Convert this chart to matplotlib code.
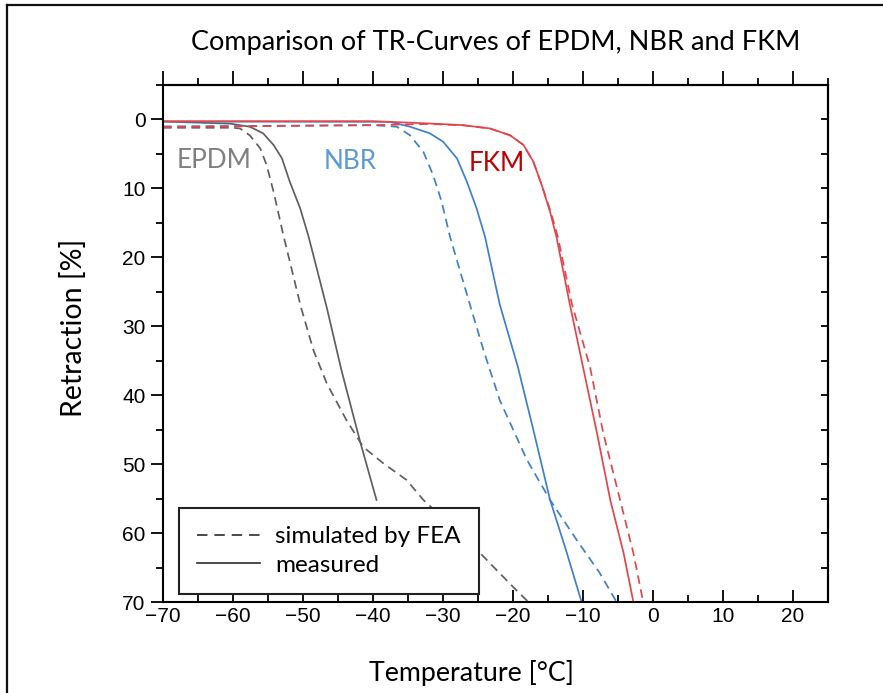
import matplotlib
matplotlib.use("Agg")
import matplotlib.pyplot as plt
from matplotlib.lines import Line2D
from matplotlib.ticker import MultipleLocator

# EPDM
epdm_meas_t = [-70, -60.4, -57.6, -55.7, -54.2, -53.0, -51.9, -50.4, -49.2, -46.6, -44.5, -41.9, -39.5]
epdm_meas_r = [0.3, 0.6, 1.05, 2.0, 3.7, 5.65, 9.0, 12.9, 17.0, 27.3, 36.4, 46.5, 55.2]
epdm_sim_t = [-70, -60, -59, -57.6, -56.1, -55.2, -54.2, -52.8, -50.3, -48.5, -46.6, -43.8, -41.4,
              -38.5, -35.2, -32.8, -28.5, -24.7, -20, -17.8]
epdm_sim_r = [1.2, 1.2, 1.3, 2.3, 4.2, 6.6, 10.5, 16.8, 27.2, 33.5, 38.3, 43.6, 47.5,
              49.9, 52.3, 55.2, 59.2, 62.9, 67.8, 70]

# NBR
nbr_meas_t = [-70, -37.6, -34.7, -31.9, -30.0, -28.0, -26.6, -25.2, -24.0, -21.9, -19.3, -17.1,
              -14.7, -12.3, -10.2]
nbr_meas_r = [0.3, 0.34, 1.05, 2.0, 3.2, 5.65, 9.0, 12.9, 17.0, 26.8, 35.9, 45.0,
              55.2, 62.9, 70]
nbr_sim_t = [-70, -40, -36.6, -34.7, -32.8, -31.4, -30.2, -29.0, -26.2, -24.2, -21.9, -18, -14.7,
             -10.9, -7.6, -5.2]
nbr_sim_r = [1.0, 0.82, 1.05, 2.3, 4.7, 8.1, 11.9, 17.0, 26.7, 33.5, 40.7, 49.4, 55.2,
             61, 65.8, 70]

# FKM
fkm_meas_t = [-70, -40, -31.9, -27.1, -23.3, -20.4, -18.5, -17.1, -15.9, -14.7, -13.8, -11.9,
              -10, -8.0, -6.1, -4.2, -2.8]
fkm_meas_r = [0.25, 0.24, 0.58, 0.82, 1.3, 2.3, 3.7, 6.1, 9.5, 13.4, 17.0, 26.7,
              35.9, 45.5, 55.2, 62.9, 70]
fkm_sim_t = [-70, -40, -31.9, -27.1, -23.3, -20.4, -18.5, -17.1, -15.9, -14.6, -13.6, -11.6,
             -9.0, -7.1, -4.7, -2.8, -1.4]
fkm_sim_r = [1.1, 0.82, 0.65, 0.85, 1.3, 2.3, 3.7, 6.1, 9.5, 13.4, 17.0, 26.7,
             35.9, 45.5, 55.2, 62.9, 70]

gray = '#5f5f5f'
blue = '#3f7fcc'
red = '#e2464c'
lw = 1.25
dash = (5, 3.2)

fig = plt.figure(figsize=(8.83, 6.93), dpi=100)
ax = fig.add_axes([0.1846, 0.1313, 0.7531, 0.746])

ax.plot(epdm_sim_t, epdm_sim_r, '--', color=gray, lw=lw, dashes=dash)
ax.plot(epdm_meas_t, epdm_meas_r, '-', color=gray, lw=lw)
ax.plot(nbr_sim_t, nbr_sim_r, '--', color=blue, lw=lw, dashes=dash)
ax.plot(nbr_meas_t, nbr_meas_r, '-', color=blue, lw=lw)
ax.plot(fkm_sim_t, fkm_sim_r, '--', color=red, lw=lw, dashes=dash)
ax.plot(fkm_meas_t, fkm_meas_r, '-', color=red, lw=lw)

ax.set_xlim(-70, 25)
ax.set_ylim(70, -5)

ax.xaxis.set_major_locator(MultipleLocator(10))
ax.xaxis.set_minor_locator(MultipleLocator(5))
ax.yaxis.set_major_locator(MultipleLocator(10))
ax.yaxis.set_minor_locator(MultipleLocator(5))
ax.set_yticks(range(0, 71, 10))
ax.tick_params(axis='x', which='both', direction='in', top=False)
ax.tick_params(axis='y', which='both', direction='out', right=False)
ax.tick_params(which='major', length=9, width=1.3, labelsize=15)
ax.tick_params(which='minor', length=5, width=1.3)
for lab in ax.get_xticklabels() + ax.get_yticklabels():
    lab.set_family('Liberation Sans')

sx = ax.secondary_xaxis('top')
sx.xaxis.set_major_locator(MultipleLocator(10))
sx.xaxis.set_minor_locator(MultipleLocator(5))
sx.tick_params(which='both', direction='out', labeltop=False)
sx.tick_params(which='major', length=10, width=1.3)
sx.tick_params(which='minor', length=5, width=1.3)

sy = ax.secondary_yaxis('right')
sy.yaxis.set_major_locator(MultipleLocator(5))
sy.tick_params(which='both', direction='in', labelright=False, length=5, width=1.3)

for sp in ax.spines.values():
    sp.set_linewidth(1.5)
sx.spines['top'].set_linewidth(1.5)
sy.spines['right'].set_linewidth(1.5)

tfont = 'Lato'
ax.text(-68, 7.1, 'EPDM', color='#7f7f7f', fontsize=18.8, family=tfont)
ax.text(-47.1, 7.2, 'NBR', color='#5b9bd5', fontsize=18.8, family=tfont)
ax.text(-26.3, 7.5, 'FKM', color='#c00000', fontsize=18.8, family=tfont)

handles = [Line2D([], [], color='#333333', ls='--', lw=lw, dashes=(6, 4)),
           Line2D([], [], color='#333333', ls='-', lw=lw)]
leg = ax.legend(handles, ['simulated by FEA', 'measured'], loc='lower left',
                bbox_to_anchor=(0.024, 0.0155), fancybox=False, edgecolor='#222222',
                prop={'family': tfont, 'size': 17.5}, handlelength=2.6, handletextpad=0.6,
                borderpad=0.75, labelspacing=0.3, borderaxespad=0, framealpha=1)
leg.get_frame().set_linewidth(1.5)

fig.text(0.561, 0.939, 'Comparison of TR-Curves of EPDM, NBR and FKM', ha='center', va='center',
         fontsize=19.5, family=tfont)
fig.text(0.083, 0.527, 'Retraction [%]', rotation=90, ha='center', va='center',
         fontsize=20.5, family=tfont)
fig.text(0.534, 0.029, 'Temperature [°C]', ha='center', va='center', fontsize=19.3, family=tfont)

fig.add_artist(Line2D([7 / 883, 7 / 883], [0, 1 - 5 / 693], color='#111111', lw=1.6))
fig.add_artist(Line2D([7 / 883, 1], [1 - 5 / 693, 1 - 5 / 693], color='#111111', lw=1.6))

fig.savefig('out.png', dpi=100)
